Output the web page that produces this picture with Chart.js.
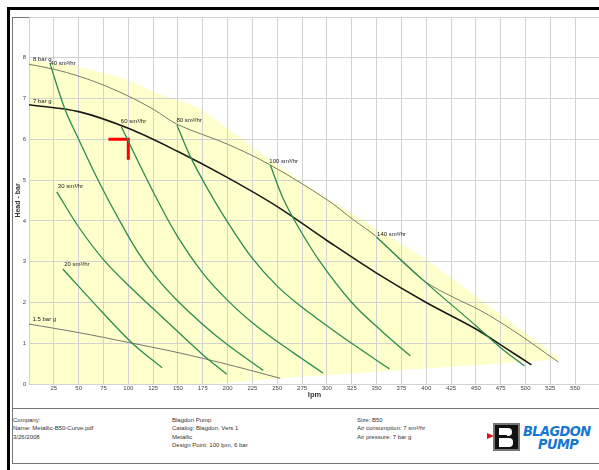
<!DOCTYPE html>
<html>
<head>
<meta charset="utf-8">
<script src="https://cdn.jsdelivr.net/npm/chart.js@4.4.1/dist/chart.umd.min.js"></script>
<style>
  body { margin: 0; width: 599px; height: 470px; overflow: hidden; background: #fff; position: relative; font-family: "Liberation Sans", Arial, sans-serif; }
  #frameLeft { position: absolute; left: 7px; top: 7px; width: 3px; height: 470px; background: #000; }
  #frameTop { position: absolute; left: 7px; top: 7px; width: 600px; height: 3px; background: #000; }
  #panel { position: absolute; left: 12px; top: 17px; width: 620px; height: 392px; border: 1px solid #777; box-sizing: border-box; }
  #footer { position: absolute; left: 12px; top: 408px; width: 620px; height: 56px; border: 1px solid #777; box-sizing: border-box; }
  #chart { position: absolute; left: 0; top: 0; }
  .col { position: absolute; top: 416px; font-size: 6px; line-height: 8.4px; color: #333; white-space: nowrap; }
  #logoBox { position: absolute; left: 493px; top: 423px; width: 27px; height: 28px; background: #111; border: 2px solid #777; box-sizing: border-box; }
  .bw { position: absolute; background: #fff; }
  #logoArrow { position: absolute; left: 487px; top: 433px; width: 0; height: 0; border-top: 3px solid transparent; border-bottom: 3px solid transparent; border-left: 7px solid #e0101a; }
  .brand { position: absolute; color: #1577d0; font-family: "DejaVu Sans", sans-serif; font-weight: bold; font-style: italic; font-size: 13px; line-height: 13px; letter-spacing: -0.6px; white-space: nowrap; transform: scaleY(1.05); transform-origin: left top; }
</style>
</head>
<body>
<div id="frameLeft"></div>
<div id="frameTop"></div>
<div id="panel"></div>
<div id="footer"></div>
<canvas id="chart" width="610" height="410"></canvas>

<div class="col" style="left:13px">Company:<br>Name: Metallic-B50-Curve.pdf<br>3/26/2008</div>
<div class="col" style="left:172px">Blagdon Pump<br>Catalog: Blagdon, Vers 1<br>Metallic<br>Design Point: 100 lpm, 6 bar</div>
<div class="col" style="left:357px">Size: B50<br>Air consumption: 7 sm³/hr<br>Air pressure: 7 bar g</div>

<div id="logoArrow"></div>
<div id="logoBox">
  <div class="bw" style="left:4px;top:3px;width:13px;height:8px;border-radius:0 4px 4px 0"></div>
  <div class="bw" style="left:4px;top:13px;width:14px;height:9px;border-radius:0 4px 4px 0"></div>
  <div class="bw" style="left:0px;top:10px;width:12px;height:2px;background:#111"></div>
</div>
<div class="brand" style="left:523px;top:424px">BLAGDON</div>
<div class="brand" style="left:538px;top:437px">PUMP</div>

<script>
// flow (lpm) / head (bar)

// air pressure curves
const flow8bar = [0, 25, 50, 75, 100, 125, 150, 200, 243, 300, 327, 350, 374, 399, 427, 454, 487, 533];
const head8bar = [7.84, 7.72, 7.55, 7.33, 7.06, 6.74, 6.36, 5.88, 5.37, 4.52, 4.02, 3.61, 3.04, 2.51, 2.13, 1.81, 1.32, 0.54];

const flow7bar = [0, 50, 100, 150, 200, 250, 300, 350, 400, 450, 480, 506];
const head7bar = [6.85, 6.68, 6.27, 5.70, 5.06, 4.35, 3.52, 2.72, 2.00, 1.35, 0.88, 0.47];

const flow15bar = [0, 50, 100, 150, 200, 253];
const head15bar = [1.47, 1.26, 1.02, 0.77, 0.48, 0.14];

// air consumption curves (sm3/hr)
const flow20 = [34, 72, 104, 134];
const head20 = [2.82, 1.81, 1.00, 0.40];

const flow30 = [28, 50, 75, 100, 125, 150, 175, 199];
const head30 = [4.71, 3.85, 3.05, 2.42, 1.85, 1.28, 0.72, 0.24];

const flow40 = [21, 36, 50, 70, 90, 110, 130, 150, 175, 200, 236];
const head40 = [7.87, 6.75, 6.00, 4.98, 4.06, 3.22, 2.56, 2.03, 1.46, 0.96, 0.33];

const flow60 = [93, 110, 130, 150, 175, 200, 225, 250, 275, 296];
const head60 = [6.31, 5.45, 4.48, 3.60, 2.72, 2.05, 1.50, 1.04, 0.62, 0.27];

const flow80 = [149, 162, 180, 200, 225, 250, 275, 300, 326, 363];
const head80 = [6.35, 5.60, 4.78, 3.97, 3.08, 2.40, 1.88, 1.43, 0.98, 0.37];

const flow100 = [243, 255, 270, 293, 325, 355, 384];
const head100 = [5.37, 4.60, 3.90, 3.00, 2.00, 1.30, 0.69];

const flow140 = [350, 400, 450, 474, 499];
const head140 = [3.60, 2.48, 1.43, 0.91, 0.44];

// operating envelope (top edge left->right, then bottom edge back)
const envFlow = [0, 50, 100, 130, 155, 172, 202, 253, 303, 353, 404, 536, 536, 253, 180, 0];
const envHead = [7.95, 7.78, 7.45, 7.12, 6.92, 6.75, 6.23, 5.33, 4.51, 3.77, 2.98, 0.60, 0.60, 0.14, 0, 0];

// design point marker
const designFlow = [80, 100, 100];
const designHead = [6.0, 6.0, 5.5];

// curve captions, anchored in data units
const capText = ['8 bar g', '40 sm³/hr', '7 bar g', '60 sm³/hr', '80 sm³/hr', '100 sm³/hr', '140 sm³/hr', '30 sm³/hr', '20 sm³/hr', '1.5 bar g'];
const capFlow = [4, 21.5, 4, 92.5, 148.5, 242, 350.5, 29, 35.5, 3.5];
const capHead = [7.96, 7.87, 6.94, 6.45, 6.47, 5.47, 3.66, 4.84, 2.94, 1.58];

function pts(xs, ys) {
    return xs.map((x, i) => ({x: x, y: ys[i]}));
}

function curve(xs, ys, color, width) {
    return {
        data: pts(xs, ys),
        borderColor: color,
        borderWidth: width,
        pointRadius: 0,
        fill: false,
        tension: 0.35
    };
}

const green = '#2a8c50';

// draws the captions next to the curves
const captionPlugin = {
    id: 'captions',
    afterDatasetsDraw(chart) {
        const ctx = chart.ctx;
        const xs = chart.scales.x, ys = chart.scales.y;
        ctx.save();
        ctx.font = '6px "Liberation Sans", Arial, sans-serif';
        ctx.fillStyle = '#222';
        ctx.textAlign = 'left';
        ctx.textBaseline = 'middle';
        for (let i = 0; i < capText.length; i++) {
            ctx.fillText(capText[i], xs.getPixelForValue(capFlow[i]), ys.getPixelForValue(capHead[i]));
        }
        ctx.restore();
    }
};

new Chart(document.getElementById('chart'), {
    type: 'line',
    data: {
        datasets: [
            {
                data: pts(envFlow, envHead),
                borderWidth: 0,
                borderColor: 'rgba(0,0,0,0)',
                backgroundColor: '#ffffcc',
                pointRadius: 0,
                tension: 0.2,
                fill: 'shape'
            },
            curve(flow20, head20, green, 1.3),
            curve(flow30, head30, green, 1.3),
            curve(flow40, head40, green, 1.3),
            curve(flow60, head60, green, 1.3),
            curve(flow80, head80, green, 1.3),
            curve(flow100, head100, green, 1.3),
            curve(flow140, head140, green, 1.3),
            curve(flow15bar, head15bar, '#666', 0.9),
            curve(flow8bar, head8bar, '#7a7a6a', 1),
            curve(flow7bar, head7bar, '#1a1a1a', 1.6),
            {
                data: pts(designFlow, designHead),
                borderColor: '#ff0000',
                borderWidth: 3,
                pointRadius: 0,
                tension: 0,
                fill: false,
                borderCapStyle: 'butt',
                borderJoinStyle: 'miter'
            }
        ]
    },
    options: {
        responsive: false,
        animation: false,
        layout: { padding: { top: 17, right: 10, left: 0, bottom: 0 } },
        plugins: {
            legend: { display: false },
            tooltip: { enabled: false },
            filler: { drawTime: 'beforeDraw' }
        },
        scales: {
            x: {
                type: 'linear',
                min: 0,
                max: 575,
                grid: { color: '#d2d2d2', drawTicks: false },
                border: { color: '#d2d2d2' },
                ticks: {
                    stepSize: 25,
                    padding: 1,
                    color: '#444',
                    font: { size: 6, family: '"Liberation Sans", Arial, sans-serif' },
                    maxRotation: 0,
                    autoSkip: false,
                    callback: v => (v === 0 || v === 575) ? '' : v
                },
                title: {
                    display: true,
                    text: 'lpm',
                    color: '#333',
                    font: { size: 7.5, weight: 'bold', family: '"Liberation Sans", Arial, sans-serif' },
                    padding: { top: 0, bottom: 10.5 }
                },
                afterFit: s => { s.height = 26; }
            },
            y: {
                min: 0,
                max: 9,
                grid: { color: '#d2d2d2', drawTicks: false },
                border: { color: '#d2d2d2' },
                ticks: {
                    stepSize: 1,
                    padding: 3,
                    color: '#444',
                    font: { size: 6, family: '"Liberation Sans", Arial, sans-serif' },
                    callback: v => v === 9 ? '' : v
                },
                title: {
                    display: true,
                    text: 'Head - bar',
                    color: '#333',
                    font: { size: 7, weight: 'bold', family: '"Liberation Sans", Arial, sans-serif' },
                    padding: { top: 14, bottom: 0 }
                },
                afterFit: s => { s.width = 29; }
            }
        }
    },
    plugins: [captionPlugin]
});
</script>
</body>
</html>
